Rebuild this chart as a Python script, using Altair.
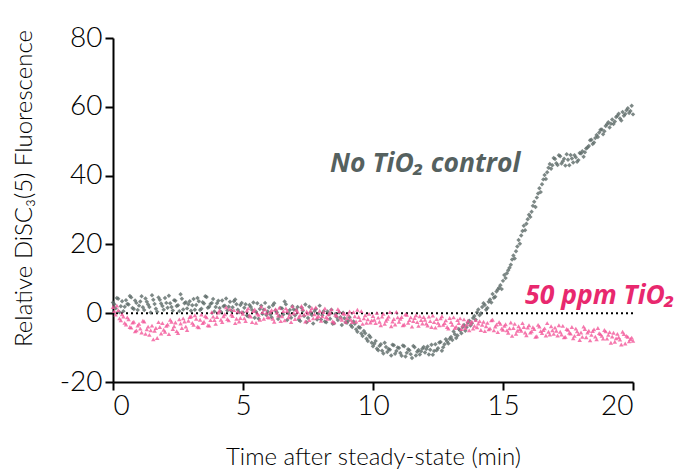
import altair as alt
import pandas as pd

# sampling times (min): two interleaved reads, every 0.1 min
time_a = [round(i * 0.1, 2) for i in range(201)]
time_b = [round(i * 0.1 + 0.05, 2) for i in range(200)]

control_a = [
    3.1, 1.4, 4.2, 2.0, 0.6, 3.8, 2.5, 4.6, 1.2, 3.0,
    2.2, 4.9, 0.9, 3.3, 1.8, 5.2, 2.7, 0.4, 3.9, 2.1,
    4.4, 1.6, 2.9, 0.8, 3.6, 2.3, 5.5, 1.1, 3.2, 2.6,
    0.7, 4.1, 2.4, 3.5, 1.3, 2.8, 4.7, 1.9, 3.0, 0.5,
    2.9, 1.5, 3.7, 2.2, 0.8, 3.3, 1.7, 4.0, 1.0, 2.4,
    0.2, 2.6, -0.9, 1.8, 3.1, 0.4, -1.6, 2.2, 1.0, -0.5,
    1.7, -1.2, 2.9, 0.3, -0.8, 1.4, 3.4, -2.0, 0.9, 2.0,
    -0.6, 1.8, -2.3, 0.7, 2.5, -1.4, 0.1, -3.0, 1.2, -0.2,
    -1.8, 0.6, -2.6, -0.3, 1.0, -2.9, -1.1, 0.2, -3.4, -1.5,
    -2.8, -1.2, -4.0, -3.1, -5.4, -4.2, -6.6, -5.8, -8.1, -7.0,
    -9.6, -8.1, -10.8, -9.0, -11.7, -9.8, -10.4, -12.3, -9.3, -11.0,
    -10.1, -12.4, -9.6, -11.5, -10.8, -13.0, -9.9, -11.2, -12.0, -10.3,
    -11.4, -9.7, -10.6, -12.1, -9.0, -10.2, -8.4, -9.9, -7.6, -8.8,
    -6.9, -5.3, -7.2, -4.6, -5.8, -3.4, -4.1, -2.2, -2.9, -0.8,
    0.3, -0.6, 1.8, 2.4, 1.5, 4.0, 5.6, 4.8, 6.9, 8.1,
    9.4, 10.2, 12.5, 14.1, 16.8, 18.0, 21.3, 22.6, 25.4, 26.0,
    28.6, 29.5, 32.4, 33.6, 36.3, 37.5, 40.2, 41.0, 43.4, 43.0,
    44.8, 43.1, 45.6, 44.2, 42.9, 44.6, 46.0, 43.8, 45.3, 44.5,
    46.4, 45.5, 47.9, 48.6, 50.4, 49.6, 51.8, 52.5, 53.4, 52.9,
    54.9, 54.0, 56.3, 55.7, 57.4, 56.6, 58.5, 57.9, 59.6, 58.8,
    57.8,
]
control_b = [
    2.6, 4.4, 0.3, 3.5, 1.9, 2.7, 5.0, 1.5, 3.7, 0.9,
    3.4, 1.7, 4.3, 2.5, 0.2, 3.9, 1.3, 4.6, 2.8, 1.0,
    3.0, 5.1, 1.8, 3.8, 2.1, 0.6, 4.2, 2.9, 1.4, 3.5,
    2.3, 1.0, 4.4, 0.9, 3.2, 4.9, 1.6, 2.7, 4.1, 1.8,
    3.6, 0.4, 2.0, 4.3, 1.9, 0.7, 3.5, 2.6, 0.3, 3.0,
    1.6, -0.7, 2.4, 0.9, -1.3, 2.9, 1.2, -0.2, 3.0, 0.5,
    -0.3, 2.3, 0.8, -1.7, 1.5, -0.4, 2.6, 0.0, -1.3, 1.1,
    0.9, -1.9, 1.6, -0.8, -2.6, 1.9, -0.5, 0.6, -1.8, 2.2,
    -0.6, -2.4, 0.5, -1.6, -3.1, -0.2, -2.0, -1.2, 0.1, -2.6,
    -2.1, -3.5, -2.4, -4.7, -4.0, -5.9, -5.2, -7.4, -6.5, -8.6,
    -8.9, -10.3, -9.5, -10.9, -8.6, -11.3, -10.6, -9.2, -11.8, -10.0,
    -11.6, -9.4, -12.6, -10.5, -11.9, -9.5, -12.3, -10.7, -11.1, -9.8,
    -10.4, -12.0, -9.2, -11.0, -10.8, -8.5, -10.9, -9.0, -8.2, -7.4,
    -7.8, -6.1, -6.5, -5.0, -4.0, -5.1, -2.8, -3.6, -1.4, -1.9,
    1.1, 0.0, 2.9, 1.0, 3.3, 3.1, 4.5, 6.3, 7.4, 7.0,
    11.1, 11.6, 13.2, 15.6, 15.9, 19.4, 20.2, 23.9, 24.1, 27.3,
    28.0, 31.2, 30.9, 34.8, 35.2, 38.9, 39.0, 42.3, 42.0, 45.1,
    43.6, 45.9, 43.5, 44.9, 46.2, 43.0, 45.0, 45.9, 44.0, 46.6,
    47.1, 46.8, 48.2, 50.3, 49.2, 50.9, 51.2, 53.3, 52.0, 54.4,
    55.5, 55.1, 55.0, 57.0, 58.0, 56.0, 57.4, 59.0, 58.2, 60.3,
]

tio2_a = [
    1.8, -0.4, 0.9, -2.1, -1.0, -3.3, -1.8, -4.2, -2.5, -5.0,
    -3.1, -5.6, -2.4, -4.7, -6.3, -3.6, -5.1, -7.2, -4.0, -2.9,
    -5.4, -3.3, -1.9, -4.6, -2.7, -5.8, -3.0, -1.5, -3.9, -2.2,
    -0.9, -3.4, -1.6, -4.1, -0.4, -2.5, -1.2, -3.6, 0.3, -2.0,
    -1.1, 0.8, -2.6, -0.3, -1.7, 1.2, -0.8, -2.9, 0.5, -1.4,
    -0.2, -2.3, 1.4, -1.0, 0.6, -2.8, -0.5, 1.9, -1.6, 0.1,
    -1.3, 0.9, -2.5, 0.2, 1.6, -0.9, -2.1, 0.7, -0.4, 2.0,
    -1.7, 0.4, -0.6, 1.3, -2.4, -0.1, 0.8, -1.5, 1.7, -0.8,
    -2.2, 0.3, -1.1, -0.3, 1.1, -2.7, -0.7, 0.6, -1.9, -0.2,
    -1.4, 0.5, -2.6, -0.9, 1.0, -2.0, -3.1, -0.6, -1.8, -2.7,
    -0.8, -2.9, -1.3, -3.5, -0.2, -2.2, -1.0, -3.8, -1.7, 0.4,
    -2.5, -1.1, -3.3, -0.5, -2.0, -3.9, -1.4, -2.6, -0.9, -3.0,
    -1.9, -3.6, -2.3, -0.7, -4.2, -2.8, -1.5, -3.4, -2.1, -4.5,
    -2.6, -1.2, -3.9, -2.9, -4.6, -1.8, -3.3, -5.0, -2.4, -3.7,
    -4.1, -2.3, -3.4, -5.2, -2.8, -4.4, -1.9, -3.9, -5.5, -3.1,
    -4.8, -3.2, -5.7, -2.7, -4.3, -6.0, -3.8, -5.1, -4.0, -6.4,
    -3.5, -5.3, -4.6, -6.7, -3.9, -5.8, -4.4, -2.9, -6.2, -5.0,
    -4.2, -6.5, -5.4, -3.7, -6.9, -4.8, -5.9, -7.3, -4.5, -6.1,
    -5.6, -3.9, -7.0, -5.1, -6.3, -4.7, -7.6, -5.8, -6.6, -4.9,
    -7.4, -5.5, -6.8, -8.3, -6.0, -7.7, -5.4, -8.8, -6.9, -7.5,
    -8.0,
]
tio2_b = [
    0.6, 2.2, -1.5, -0.3, -2.8, -1.2, -4.0, -2.7, -5.3, -3.6,
    -4.5, -2.2, -6.0, -3.9, -5.0, -7.6, -4.3, -2.6, -5.9, -4.8,
    -3.7, -6.1, -2.5, -3.8, -5.2, -1.8, -4.3, -2.4, -4.9, -1.1,
    -2.8, -0.6, -3.9, -1.9, -2.9, -0.8, -3.5, -2.0, -1.0, -3.1,
    0.2, -1.9, -0.9, 1.7, -2.1, -0.4, 0.9, -1.6, -2.4, 0.4,
    -1.5, 0.8, -0.6, -2.6, 1.1, -0.1, -1.9, 0.3, 1.2, -1.1,
    0.4, -1.6, 1.2, -0.7, -2.3, 0.6, 1.4, -1.2, -2.6, 0.0,
    1.0, -1.1, 2.1, -0.4, 0.5, -2.0, 1.5, -0.3, -1.2, 0.7,
    -0.9, 1.4, -1.6, 0.2, -2.3, -0.5, 1.2, -1.3, 0.0, -2.5,
    -0.4, -1.9, 0.3, -2.4, -1.1, 0.6, -1.5, -2.8, -0.2, -2.1,
    -1.9, 0.1, -2.5, -1.0, -3.1, -1.6, 0.3, -2.4, -3.3, -1.2,
    -1.6, -3.5, -0.3, -2.8, -1.2, -2.3, -0.6, -3.7, -2.0, -1.1,
    -3.0, -1.0, -4.0, -2.6, -1.7, -3.5, -0.9, -2.9, -4.0, -1.4,
    -3.4, -4.3, -2.0, -1.5, -3.5, -4.3, -2.2, -3.0, -4.5, -2.0,
    -3.0, -4.9, -2.5, -3.8, -4.7, -2.1, -5.0, -3.3, -2.6, -4.5,
    -3.7, -5.0, -4.4, -6.6, -3.1, -5.1, -4.6, -2.9, -5.6, -4.2,
    -5.6, -4.1, -6.9, -3.4, -5.2, -4.9, -6.5, -5.4, -3.8, -6.0,
    -5.1, -3.5, -6.2, -7.0, -4.6, -5.7, -4.0, -6.6, -5.3, -7.8,
    -6.9, -4.6, -5.6, -7.9, -5.2, -6.8, -4.3, -6.1, -7.4, -5.3,
    -6.3, -8.6, -5.7, -7.3, -7.0, -9.1, -6.1, -6.6, -8.2, -7.1,
]

series_names = ["No TiO₂ control", "50 ppm TiO₂"]
point_colors = ["#5d6a68", "#f2589a"]
label_colors = ["#55615f", "#e8286e"]
series_shapes = ["diamond", "triangle-up"]

x_ticks = [0, 5, 10, 15, 20]
y_ticks = [-20, 0, 20, 40, 60, 80]

rows = []
for ts, vs in ((time_a, control_a), (time_b, control_b)):
    for t, v in zip(ts, vs):
        rows.append({"t": t, "v": v, "series": series_names[0], "order": 0})
for ts, vs in ((time_a, tio2_a), (time_b, tio2_b)):
    for t, v in zip(ts, vs):
        rows.append({"t": t, "v": v, "series": series_names[1], "order": 1})
df = pd.DataFrame(rows)

x_enc = alt.X("t:Q", scale=alt.Scale(domain=[0, 20], nice=False),
              axis=alt.Axis(values=x_ticks, title="Time after steady-state (min)",
                            titleY=82, titleBaseline="alphabetic", labelPadding=2,
                            labelExpr="datum.value + ''"))
y_enc = alt.Y("v:Q", scale=alt.Scale(domain=[-20, 80], nice=False),
              axis=alt.Axis(values=y_ticks, title="Relative DiSC₃(5) Fluorescence",
                            titleX=-82, titleY=150, titleBaseline="alphabetic", labelPadding=3,
                            labelExpr="datum.value + ''"))

points = alt.Chart(df).mark_point(filled=True, size=20, opacity=0.8).encode(
    x=x_enc,
    y=y_enc,
    color=alt.Color("series:N", scale=alt.Scale(domain=series_names, range=point_colors), legend=None),
    shape=alt.Shape("series:N", scale=alt.Scale(domain=series_names, range=series_shapes), legend=None),
    order=alt.Order("order:Q"),
)

zero_line = alt.Chart(pd.DataFrame({"y": [0]})).mark_rule(
    color="black", strokeWidth=2, strokeDash=[2, 3]
).encode(y="y:Q")

labels_df = pd.DataFrame({
    "t": [8.35, 15.85],
    "v": [41.0, 2.6],
    "text": ["No TiO₂ control", "50 ppm TiO₂"],
    "series": series_names,
})
labels = alt.Chart(labels_df).mark_text(
    align="left", baseline="alphabetic", fontSize=26.5, fontWeight="bold", fontStyle="italic", font="Open Sans"
).encode(
    x="t:Q", y="v:Q", text="text:N",
    color=alt.Color("series:N", scale=alt.Scale(domain=series_names, range=label_colors), legend=None),
)

chart = alt.layer(zero_line, points, labels).properties(
    width=520, height=344,
    autosize=alt.AutoSizeParams(type="none"),
    padding={"left": 105, "top": 30, "right": 52, "bottom": 91},
).configure_view(stroke=None).configure_axis(
    grid=False, domainColor="black", domainWidth=2, tickColor="black", tickWidth=2, tickSize=8,
    labelFont="Lato", labelFontSize=28, labelFontWeight=300, labelColor="black",
    titleFont="Lato", titleFontSize=24, titleFontWeight=300, titleColor="black",
).resolve_scale(color="independent")

chart.save("out.html", embed_options={"renderer": "svg", "actions": False})
